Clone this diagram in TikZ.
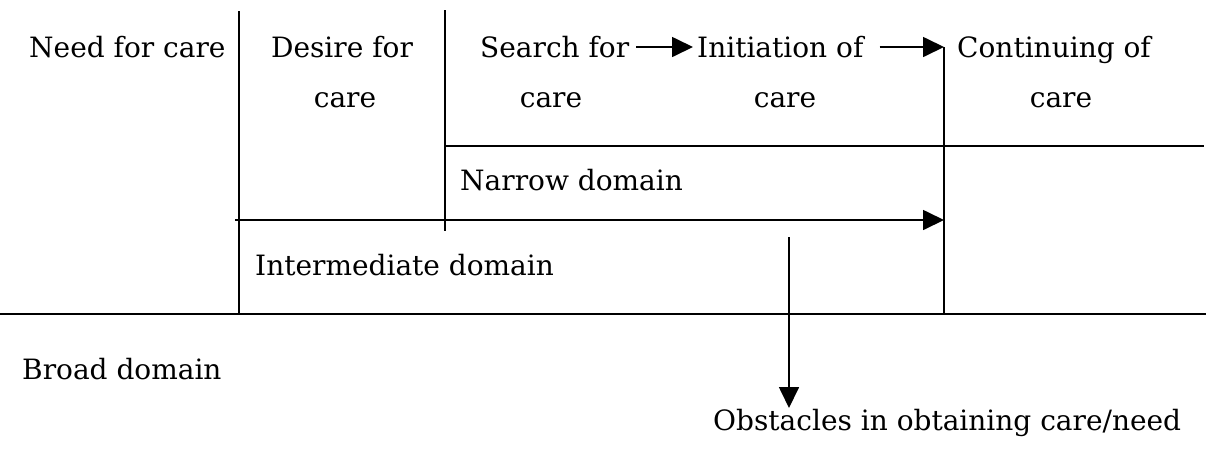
\documentclass[tikz,border=0pt]{standalone}
\usepackage{fontspec}
\setmainfont{DejaVu Serif}
\usetikzlibrary{arrows.meta}
\tikzset{
  lbl/.style={inner sep=0pt, font=\fontsize{28}{34}\selectfont, text height=22pt, text depth=2pt},
  rule/.style={line width=1.7pt},
  arr/.style={line width=1.7pt, -{Triangle[length=21pt,width=20pt]}}
}
\begin{document}
\begin{tikzpicture}[x=1pt,y=-1pt]
\useasboundingbox (0,0) rectangle (1209,448);
% text nodes
\node[lbl, anchor=base west] (need) at (29,57) {Need for care};
\node[lbl, anchor=base] (desire1) at (342,57) {Desire for};
\node[lbl, anchor=base] (desire2) at (345,107) {care};
\node[lbl, anchor=base west] (search1) at (480,57) {Search for};
\node[lbl, anchor=base] (search2) at (551,107) {care};
\node[lbl, anchor=base west] (init1) at (697,57) {Initiation of};
\node[lbl, anchor=base] (init2) at (785,107) {care};
\node[lbl, anchor=base west] (cont1) at (957,57) {Continuing of};
\node[lbl, anchor=base] (cont2) at (1061,107) {care};
\node[lbl, anchor=base west] (narrow) at (460,190) {Narrow domain};
\node[lbl, anchor=base west] (inter) at (255,275) {Intermediate domain};
\node[lbl, anchor=base west] (broad) at (22,379) {Broad domain};
\node[lbl, anchor=base west] (obst) at (713,430) {Obstacles in obtaining care/need};
% coordinates
\coordinate (v1top) at (239,11);
\coordinate (v1bot) at (239,314);
\coordinate (v2top) at (445,10);
\coordinate (v2bot) at (445,231);
\coordinate (v3top) at (944,47);
\coordinate (v3bot) at (944,314);
\coordinate (nl) at (445,146);
\coordinate (nr) at (1204,146);
\coordinate (il) at (235,220);
\coordinate (ir) at (944,220);
\coordinate (bl) at (0,314);
\coordinate (br) at (1206,314);
\coordinate (dtop) at (789,237);
\coordinate (dtip) at (789,408);
% rules
\draw[rule] (v1top) -- (v1bot);
\draw[rule] (v2top) -- (v2bot);
\draw[rule] (v3top) -- (v3bot);
\draw[rule] (nl) -- (nr);
\draw[rule] (bl) -- (br);
% arrows
\draw[arr, shorten <=7pt, shorten >=4pt] (search1.east) -- (init1.west);
\draw[arr, shorten <=16pt] (init1.east) -- (v3top);
\draw[arr] (il) -- (ir);
\draw[arr] (dtop) -- (dtip);
\end{tikzpicture}
\end{document}
